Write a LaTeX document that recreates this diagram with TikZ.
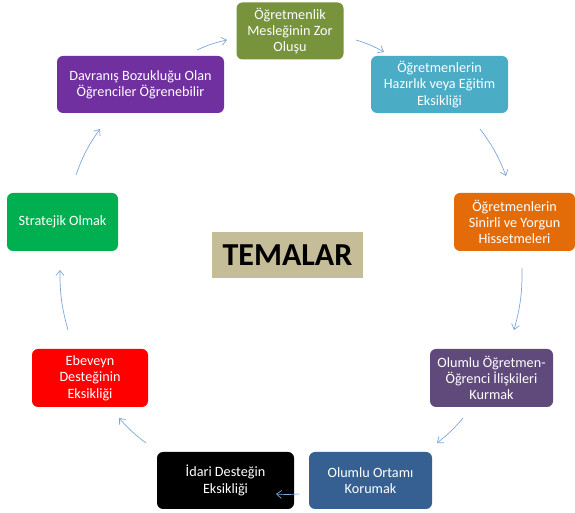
\documentclass[tikz,border=0pt]{standalone}
\usepackage{fontspec}
\setmainfont{Carlito}
\usetikzlibrary{arrows.meta}
\definecolor{cOlive}{HTML}{77933C}
\definecolor{cCyan}{HTML}{4BACC6}
\definecolor{cOrange}{HTML}{E36C09}
\definecolor{cPurple}{HTML}{7030A0}
\definecolor{cGreen}{HTML}{00B050}
\definecolor{cRed}{HTML}{FF0000}
\definecolor{cNavy}{HTML}{366092}
\definecolor{cPlum}{HTML}{604A7B}
\definecolor{cTan}{HTML}{C4BD97}
\definecolor{cArrow}{HTML}{7FA7DA}
\tikzset{
  theme/.style={rounded corners=6pt, text=white, align=center, inner sep=1pt,
    font=\fontsize{14.2pt}{16.3pt}\selectfont},
  cyc/.style={draw=cArrow, line width=0.7pt, -{Straight Barb[length=5pt,width=8pt]}},
}
\begin{document}
\begin{tikzpicture}[x=1pt,y=1pt]
\useasboundingbox[fill=white] (0,0) rectangle (575,513);
\node[theme, fill=cOlive, minimum width=107pt, minimum height=57pt] (g1) at (290,482) {Öğretmenlik\\Mesleğinin Zor\\Oluşu};
\node[theme, fill=cCyan, minimum width=137pt, minimum height=57pt] (cy) at (439.5,428.5) {Öğretmenlerin\\Hazırlık veya Eğitim\\Eksikliği};
\node[theme, fill=cOrange, minimum width=121pt, minimum height=58pt] (or) at (514.5,291) {Öğretmenlerin\\Sinirli ve Yorgun\\Hissetmeleri};
\node[theme, fill=cPlum, minimum width=123pt, minimum height=58pt] (pl) at (491.5,135) {Olumlu Öğretmen-\\Öğrenci İlişkileri\\Kurmak};
\node[theme, fill=cNavy, minimum width=123pt, minimum height=57pt] (db) at (370.5,32.5) {Olumlu Ortamı\\Korumak};
\node[theme, fill=black, minimum width=137pt, minimum height=57pt] (bk) at (225.5,32.5) {İdari Desteğin\\Eksikliği};
\node[theme, fill=cRed, minimum width=116pt, minimum height=58pt] (rd) at (90,135) {Ebeveyn\\Desteğinin\\Eksikliği};
\node[theme, fill=cGreen, minimum width=111pt, minimum height=58pt] (st) at (62.5,291) {Stratejik Olmak};
\node[theme, fill=cPurple, minimum width=167pt, minimum height=57pt] (pu) at (140.5,428.5) {Davranış Bozukluğu Olan\\Öğrenciler Öğrenebilir};
\node[fill=cTan, minimum width=151pt, minimum height=46pt, inner sep=0pt,
  font=\bfseries\fontsize{32pt}{36pt}\selectfont] (tm) at (287.5,258) {TEMALAR};
% arrow end points
\coordinate (a1s) at (197,463); \coordinate (a1e) at (227,473);
\coordinate (a2s) at (356,473); \coordinate (a2e) at (384,461);
\coordinate (a3s) at (480,384); \coordinate (a3e) at (506,337);
\coordinate (a4s) at (522,245); \coordinate (a4e) at (514,183);
\coordinate (a5s) at (463,95);  \coordinate (a5e) at (437,70);
\coordinate (a6s) at (299,19);  \coordinate (a6e) at (276,19);
\coordinate (a7s) at (146,70);  \coordinate (a7e) at (119,95);
\coordinate (a8s) at (68,183);  \coordinate (a8e) at (60,243);
\coordinate (a9s) at (76,338);  \coordinate (a9e) at (100,384);
\draw[cyc] (a1s) to[bend left=6] (a1e);
\draw[cyc] (a2s) to[bend left=6] (a2e);
\draw[cyc] (a3s) to[bend left=8] (a3e);
\draw[cyc] (a4s) to[bend left=8] (a4e);
\draw[cyc] (a5s) to[bend left=6] (a5e);
\draw[cyc] (a6s) to[bend left=4] (a6e);
\draw[cyc] (a7s) to[bend left=6] (a7e);
\draw[cyc] (a8s) to[bend left=8] (a8e);
\draw[cyc] (a9s) to[bend left=8] (a9e);
\end{tikzpicture}
\end{document}
